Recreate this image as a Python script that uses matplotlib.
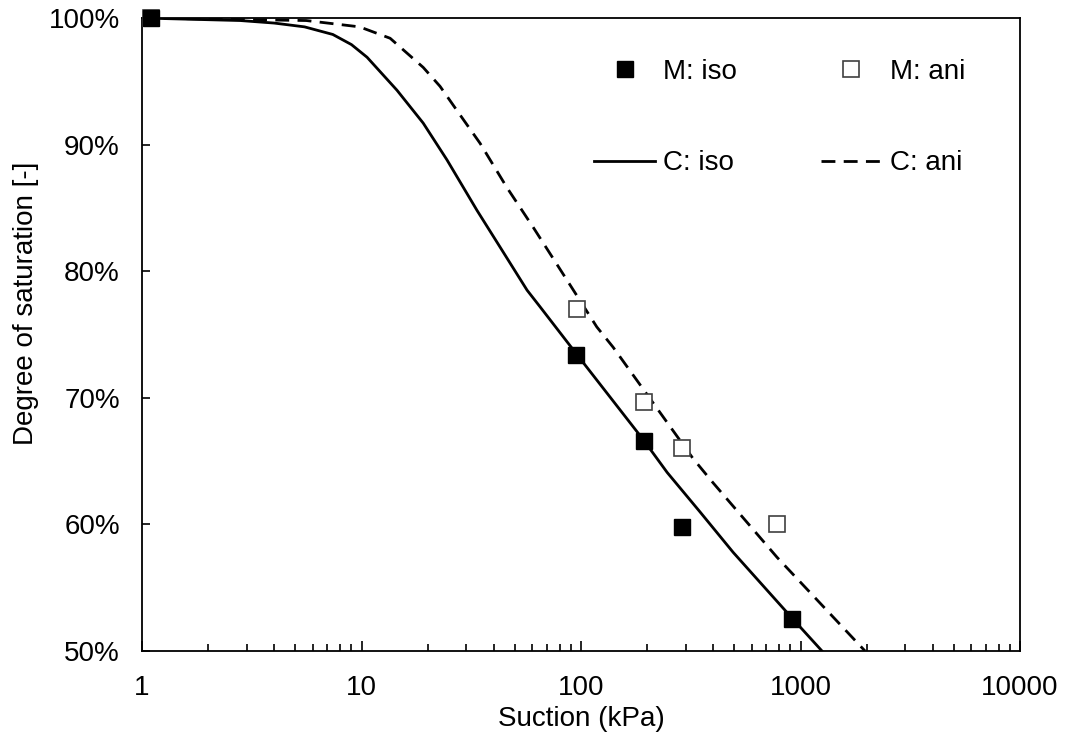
import numpy as np
import matplotlib
matplotlib.use("Agg")
import matplotlib.pyplot as plt
from matplotlib.ticker import PercentFormatter, LogLocator, NullFormatter

plt.rcParams['font.family'] = ['Liberation Sans', 'DejaVu Sans']

# measured points (suction kPa, degree of saturation %)
m_iso_x = [1.1, 95, 194, 290, 910]
m_iso_y = [100, 73.4, 66.6, 59.8, 52.5]
m_ani_x = [1.1, 96, 194, 290, 780]
m_ani_y = [100, 77.0, 69.7, 66.0, 60.0]

# computed curves
c_iso_x = [1, 2.8, 4, 5.5, 7.4, 9, 10.6, 14.5, 19.1, 24.5, 33.6, 42.8, 56.8, 65, 95,
           192, 247, 348, 493, 915, 1253]
c_iso_y = [100, 99.8, 99.6, 99.3, 98.7, 97.9, 96.9, 94.3, 91.7, 88.8, 84.8, 81.9, 78.5, 77.2, 73.5,
           66.7, 64.1, 61.0, 57.8, 52.6, 50.0]
c_ani_x = [1, 5.6, 9.8, 13.5, 19.1, 22.8, 27.2, 34.7, 46, 60.4, 86.3, 118, 140,
           213, 324, 399, 782, 1968]
c_ani_y = [100, 99.8, 99.3, 98.4, 96.1, 94.6, 92.7, 90.1, 86.6, 83.5, 79.3, 75.6, 74.0,
           69.6, 65.2, 63.3, 57.4, 50.0]

xticks = [1, 10, 100, 1000, 10000]
xtick_labels = ['1', '10', '100', '1000', '10000']
yticks = [50, 60, 70, 80, 90, 100]

fig = plt.figure(figsize=(10.69, 7.51), dpi=100)
ax = fig.add_axes([142/1069, 100/751, 878/1069, 633/751])

fs = 20
ax.plot(m_ani_x, m_ani_y, 's', ms=11, mfc='white', mec='#404040', mew=1.2,
        ls='none', label='M: ani', clip_on=False, zorder=3)
ax.plot(m_iso_x, m_iso_y, 's', ms=11, mfc='black', mec='black',
        ls='none', label='M: iso', clip_on=False, zorder=4)
ax.plot(c_iso_x, c_iso_y, '-', color='black', lw=2, label='C: iso', zorder=2)
ax.plot(c_ani_x, c_ani_y, '--', color='black', lw=2, dashes=(5, 3), label='C: ani', zorder=2)

ax.set_xscale('log')
ax.set_xlim(1, 10000)
ax.set_ylim(50, 100)
ax.set_xticks(xticks)
ax.set_xticklabels(xtick_labels)
ax.xaxis.set_minor_locator(LogLocator(base=10, subs=np.arange(2, 10)))
ax.xaxis.set_minor_formatter(NullFormatter())
ax.set_yticks(yticks)
ax.yaxis.set_major_formatter(PercentFormatter(xmax=100, decimals=0))

ax.tick_params(axis='x', which='major', direction='in', length=7, width=1.2,
               labelsize=fs, pad=17, top=False)
ax.tick_params(axis='x', which='minor', direction='in', length=5, width=1.2, top=False)
ax.tick_params(axis='y', which='major', direction='in', length=6, width=1.2,
               labelsize=fs, pad=16, right=False)
for s in ax.spines.values():
    s.set_linewidth(1.3)
    s.set_color('black')

ax.set_xlabel('Suction (kPa)', fontsize=fs, labelpad=4)
ax.set_ylabel('Degree of saturation [-]', fontsize=fs)
ax.yaxis.set_label_coords(-0.117, 0.55)

h, l = ax.get_legend_handles_labels()
order = [1, 2, 0, 3]
leg = ax.legend([h[i] for i in order], [l[i] for i in order], ncol=2, frameon=False,
                fontsize=fs, handlelength=2.2, handletextpad=0.3, columnspacing=3.0,
                labelspacing=2.35, borderpad=0, borderaxespad=0,
                loc='upper left', bbox_to_anchor=(594/1069, 1 - 59/751),
                bbox_transform=fig.transFigure)

fig.savefig('out.png', dpi=100)
